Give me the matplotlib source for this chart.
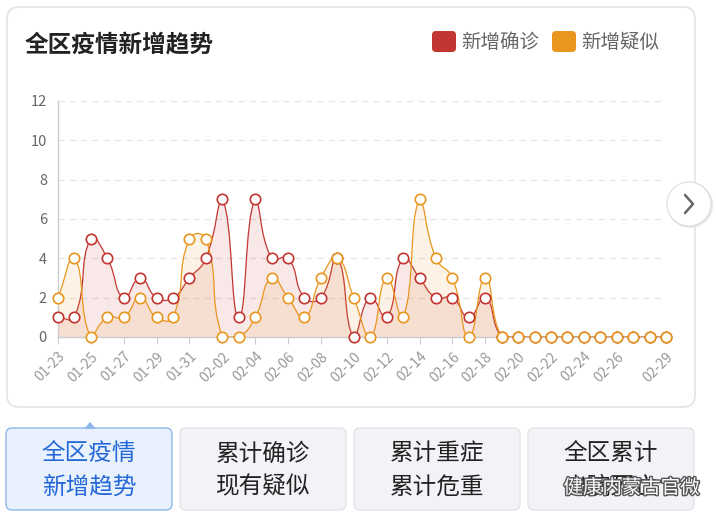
import numpy as np
import matplotlib.pyplot as plt
from matplotlib.path import Path
from matplotlib.patches import PathPatch, FancyBboxPatch, Circle, Polygon
import matplotlib.patheffects as pe

plt.rcParams['font.family'] = ['Noto Sans CJK SC', 'DejaVu Sans']

# 2020-01-23 .. 2020-02-29
dates = ['01-%02d' % d for d in range(23, 32)] + ['02-%02d' % d for d in range(1, 30)]
confirmed = [1, 1, 5, 4, 2, 3, 2, 2, 3, 4, 7, 1, 7, 4, 4, 2, 2, 4, 0, 2, 1, 4, 3, 2, 2, 1, 2, 0,
             0, 0, 0, 0, 0, 0, 0, 0, 0, 0]
suspected = [2, 4, 0, 1, 1, 2, 1, 1, 5, 5, 0, 0, 1, 3, 2, 1, 3, 4, 2, 0, 3, 1, 7, 4, 3, 0, 3, 0,
             0, 0, 0, 0, 0, 0, 0, 0, 0, 0]
label_idx = list(range(0, 35, 2)) + [37]

RED = '#c23531'
ORANGE = '#e9961f'


def smooth_verts(x, y, sx=16.4, sy=19.7, smooth=0.5):
    # echarts-like bezier smoothing, control points kept inside the series bbox
    p = np.column_stack([np.asarray(x, float) * sx, np.asarray(y, float) * sy])
    n = len(p)
    lo, hi = p.min(axis=0), p.max(axis=0)
    cps = []
    for i in range(n):
        prev = p[i - 1] if i > 0 else p[i]
        nxt = p[i + 1] if i < n - 1 else p[i]
        v = (nxt - prev) * smooth
        d0 = np.hypot(*(p[i] - prev))
        d1 = np.hypot(*(p[i] - nxt))
        s = d0 + d1
        if s > 0:
            d0, d1 = d0 / s, d1 / s
        c0 = np.clip(p[i] - v * d0, lo, hi)
        c1 = np.clip(p[i] + v * d1, lo, hi)
        cps.append((c0, c1))
    verts = [p[0]]
    codes = [Path.MOVETO]
    for i in range(n - 1):
        verts += [cps[i][1], cps[i + 1][0], p[i + 1]]
        codes += [Path.CURVE4] * 3
    verts = np.array(verts) / [sx, sy]
    return verts, codes


fig = plt.figure(figsize=(7.16, 5.19), dpi=100)
W, H = 716, 519

bg = fig.add_axes([0, 0, 1, 1], zorder=0)
bg.set_xlim(0, W)
bg.set_ylim(H, 0)
bg.axis('off')
bg.add_patch(FancyBboxPatch((7, 7), 688, 400, boxstyle='round,pad=0,rounding_size=12',
                            fc='white', ec='#e3e3e3', lw=1.2))
bg.text(25, 45, '全区疫情新增趋势', fontsize=17, fontweight='bold', color='#222222', va='center')
for lx, col, lab in [(432, RED, '新增确诊'), (552, ORANGE, '新增疑似')]:
    bg.add_patch(FancyBboxPatch((lx, 31), 24, 21, boxstyle='round,pad=0,rounding_size=4',
                                fc=col, ec='none'))
    bg.text(lx + 29, 42, lab, fontsize=14, color='#666666', va='center')

ax = fig.add_axes([58 / W, 1 - 337 / H, 608 / W, 236 / H], zorder=1)
ax.patch.set_alpha(0)
x = np.arange(len(dates))
for data, col in [(confirmed, RED), (suspected, ORANGE)]:
    verts, codes = smooth_verts(x, data)
    area = np.vstack([verts, [[x[-1], 0], [x[0], 0], [x[0], 0]]])
    acodes = codes + [Path.LINETO, Path.LINETO, Path.CLOSEPOLY]
    ax.add_patch(PathPatch(Path(area, acodes), fc=col, ec='none', alpha=0.11))
    ax.add_patch(PathPatch(Path(verts, codes), fc='none', ec=col, lw=0.9))
    ax.plot(x, data, 'o', ms=7.5, mfc='white', mec=col, mew=1.2, clip_on=False, zorder=5)

ax.set_xlim(0, 37)
ax.set_ylim(0, 12)
ax.set_yticks(range(0, 13, 2))
ax.set_xticks(label_idx)
ax.set_xticklabels([dates[i] for i in label_idx], rotation=45, ha='right',
                   rotation_mode='anchor', fontsize=10, color='#999999')
ax.tick_params(axis='y', length=0, labelsize=10.5, labelcolor='#666666', pad=8)
ax.tick_params(axis='x', length=5, color='#cccccc', pad=4)
for v in range(2, 13, 2):
    ax.axhline(v, color='#e4e4e4', lw=0.9, ls=(0, (5, 4)), zorder=0)
for side in ['top', 'right']:
    ax.spines[side].set_visible(False)
for side in ['left', 'bottom']:
    ax.spines[side].set_color('#cccccc')
    ax.spines[side].set_linewidth(1)

fg = fig.add_axes([0, 0, 1, 1], zorder=2)
fg.patch.set_alpha(0)
fg.set_xlim(0, W)
fg.set_ylim(H, 0)
fg.axis('off')

# next button
fg.add_patch(Circle((690, 205), 23, fc='#e8e8e8', ec='none'))
fg.add_patch(Circle((689, 204), 22, fc='white', ec='#dddddd', lw=0.8))
fg.plot([685, 693, 685], [195, 204, 213], color='#666666', lw=1.8, solid_capstyle='round')

# tabs
tabs = [('全区疫情', '新增趋势'), ('累计确诊', '现有疑似'), ('累计重症', '累计危重'), ('全区累计', '出院死亡')]
for i, (l1, l2) in enumerate(tabs):
    x0 = 6 + i * 174
    active = i == 0
    fg.add_patch(FancyBboxPatch((x0, 428), 166, 82, boxstyle='round,pad=0,rounding_size=6',
                                fc='#e8f1fd' if active else '#f1f3f6',
                                ec='#8fb6ee' if active else '#e2e4e8', lw=1))
    tc = '#2468d8' if active else '#222222'
    fg.text(x0 + 83, 454, l1, fontsize=17, color=tc, ha='center', va='center')
    fg.text(x0 + 83, 487, l2, fontsize=17, color=tc, ha='center', va='center')
fg.add_patch(Polygon([[84, 429], [90, 422], [96, 429]], closed=True, fc='#8fb6ee', ec='none'))

# watermark
fg.text(700, 488, '健康内蒙古官微', fontsize=14, color='white', ha='right', va='center',
        path_effects=[pe.withStroke(linewidth=2, foreground='#555555')])

fig.savefig('out.png', dpi=100)
